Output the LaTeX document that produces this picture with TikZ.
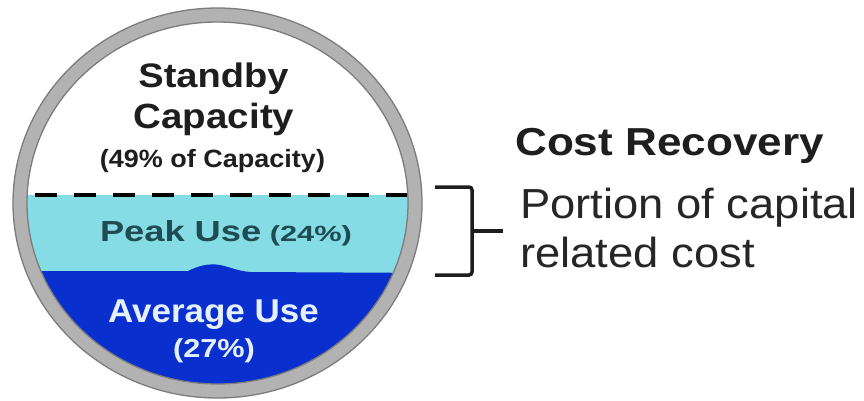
\documentclass[tikz,border=0pt]{standalone}
\usepackage{fontspec}
\usepackage{graphicx}
\setmainfont{Liberation Sans}
\definecolor{ringgray}{HTML}{B2B2B2}
\definecolor{ringedge}{HTML}{7C7C7C}
\definecolor{peakfill}{HTML}{86DCE4}
\definecolor{avgfill}{HTML}{0A2FCF}
\definecolor{darktext}{HTML}{1E1E1E}
\definecolor{peaktext}{HTML}{1F4B52}
\definecolor{avgtext}{HTML}{E4F0FF}
\tikzset{
  label/.style={inner sep=0pt, anchor=base},
  sidelabel/.style={inner sep=0pt, anchor=base west, text=darktext},
  bracketline/.style={line width=3.5pt, darktext, rounded corners=3pt},
}
\newcommand{\wtext}[3]{\scalebox{#1}[1]{\fontsize{#2pt}{#2pt}\selectfont #3}}
\begin{document}
\begin{tikzpicture}[x=1pt,y=-1pt]
  \useasboundingbox[fill=white] (0,0) rectangle (864,400);
  \coordinate (c) at (217.5,203);

  % interior layers of the tank
  \begin{scope}
    \clip (c) ellipse [x radius=190.5pt, y radius=181pt];
    \fill[white] (0,0) rectangle (440,400);
    \fill[peakfill] (0,195) rectangle (440,400);
    \fill[avgfill] (0,271) -- (188,271)
      .. controls (198,266) and (208,263) .. (220,265)
      .. controls (230,267) and (238,271) .. (250,272)
      -- (440,273) -- (440,400) -- (0,400) -- cycle;
    \draw[line width=4pt, dash pattern=on 22pt off 17pt, black] (35,195) -- (420,195);
  \end{scope}

  % outer ring
  \draw[ringgray, line width=14pt] (c) ellipse [x radius=197.5pt, y radius=188pt];
  \draw[ringedge, line width=1.3pt] (c) ellipse [x radius=204.5pt, y radius=195pt];
  \draw[ringedge, line width=1.3pt] (c) ellipse [x radius=190.5pt, y radius=181pt];

  % labels inside the tank
  \node[label, text=darktext] (standby) at (213.5,87) {\bfseries\wtext{1.12}{34}{Standby}};
  \node[label, text=darktext] (capacity) at (214,128) {\bfseries\wtext{1.1}{35}{Capacity}};
  \node[label, text=darktext] (share) at (212.5,167) {\bfseries\wtext{1.08}{25}{(49\% of Capacity)}};
  \node[label, text=peaktext] (peak) at (226,241)
    {\bfseries\wtext{1.25}{29}{Peak Use}\wtext{1.4}{22}{\ (24\%)}};
  \node[label, text=avgtext] (avg) at (213.5,322) {\bfseries\wtext{1.06}{33}{Average Use}};
  \node[label, text=avgtext] (avgpct) at (214,357) {\bfseries\wtext{1.18}{26}{(27\%)}};

  % bracket
  \coordinate (btop) at (435,187);
  \coordinate (bbot) at (435,275);
  \coordinate (bmid) at (472,231);
  \coordinate (btip) at (503,231);
  \draw[bracketline] (btop) -- (472,187) -- (bmid) -- (472,275) -- (bbot);
  \draw[line width=3.5pt, darktext] (bmid) -- (btip);

  % cost recovery text
  \node[sidelabel] (cost) at (515,155) {\bfseries\wtext{1.13}{39}{Cost Recovery}};
  \node[sidelabel, text=black!85] (portion) at (520,218) {\wtext{1.08}{42}{Portion of capital}};
  \node[sidelabel, text=black!85] (related) at (520,267) {\wtext{1.08}{42}{related cost}};
\end{tikzpicture}
\end{document}
